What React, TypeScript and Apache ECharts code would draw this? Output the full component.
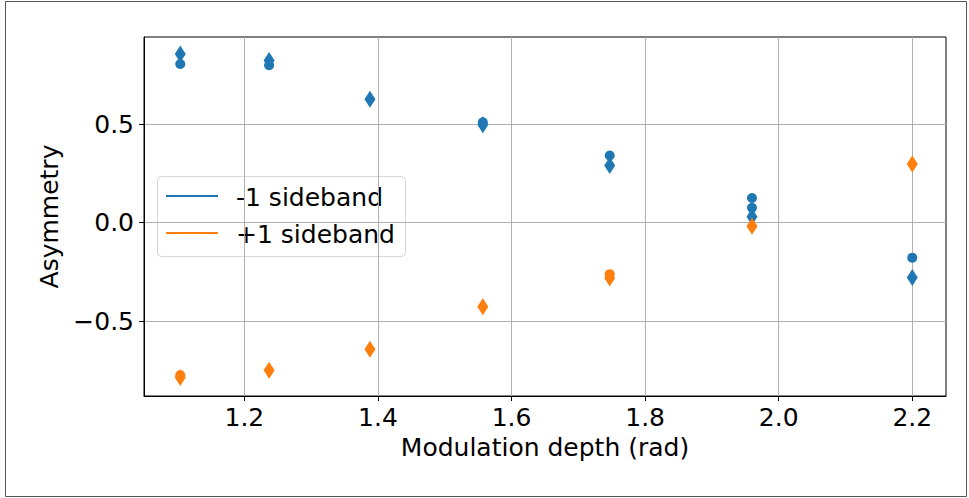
import React, { useEffect, useRef } from "react";
import * as echarts from "echarts";

// -1 sideband (blue)
const minus1DiamondX = [1.104, 1.237, 1.388, 1.557, 1.747, 1.96, 2.2];
const minus1DiamondY = [0.857, 0.823, 0.627, 0.497, 0.29, 0.03, -0.279];
const minus1CircleX = [1.104, 1.237, 1.557, 1.747, 1.96, 1.96, 2.2];
const minus1CircleY = [0.806, 0.8, 0.51, 0.341, 0.125, 0.075, -0.178];

// +1 sideband (orange)
const plus1DiamondX = [1.104, 1.237, 1.388, 1.557, 1.747, 1.96, 2.2];
const plus1DiamondY = [-0.787, -0.75, -0.644, -0.427, -0.282, -0.018, 0.298];
const plus1CircleX = [1.104, 1.747];
const plus1CircleY = [-0.775, -0.262];

const xTickValues = [1.2, 1.4, 1.6, 1.8, 2.0, 2.2];
const xTickLabels = ["1.2", "1.4", "1.6", "1.8", "2.0", "2.2"];
const yTickValues = [-0.5, 0, 0.5];
const yTickLabels = ["\u22120.5", "0.0", "0.5"];

const legendNames = ["-1 sideband", "+1 sideband"];
const BLUE = "#1f77b4";
const ORANGE = "#ff7f0e";
const FONT = "DejaVu Sans";

const zip = (xs: number[], ys: number[]) => xs.map((x, i) => [x, ys[i]]);

export default function App() {
  const ref = useRef<HTMLDivElement>(null);
  useEffect(() => {
    document.body.style.margin = "0";
    if (!ref.current) return;
    const chart = echarts.init(ref.current, undefined, { renderer: "svg" });
    const fmt = (vals: number[], labels: string[]) => (v: number) => {
      const i = vals.findIndex((t) => Math.abs(t - v) < 1e-6);
      return i >= 0 ? labels[i] : "";
    };
    chart.setOption({
      animation: false,
      backgroundColor: "#fff",
      textStyle: { fontFamily: FONT },
      grid: {
        left: 144,
        top: 37,
        width: 802,
        height: 359,
        show: true,
        borderColor: "#000",
        borderWidth: 1,
        backgroundColor: "transparent",
      },
      xAxis: {
        type: "value",
        min: 1.0497,
        max: 2.2505,
        name: "Modulation depth (rad)",
        nameLocation: "middle",
        nameGap: 36,
        nameTextStyle: { fontSize: 25, color: "#000", fontFamily: FONT },
        axisLine: { show: true, onZero: false, lineStyle: { color: "#000", width: 1 } },
        axisTick: {
          show: true,
          length: 5,
          customValues: xTickValues,
          lineStyle: { color: "#000", width: 1 },
        },
        axisLabel: {
          customValues: xTickValues,
          formatter: fmt(xTickValues, xTickLabels),
          fontSize: 25,
          color: "#000",
          margin: 9,
          fontFamily: FONT,
        },
        splitLine: { show: true, lineStyle: { color: "#b0b0b0", width: 1 } },
      },
      yAxis: {
        type: "value",
        min: -0.881,
        max: 0.943,
        name: "Asymmetry",
        nameLocation: "middle",
        nameGap: 80,
        nameRotate: 90,
        nameTextStyle: { fontSize: 25, color: "#000", fontFamily: FONT },
        axisLine: { show: true, onZero: false, lineStyle: { color: "#000", width: 1 } },
        axisTick: {
          show: true,
          length: 5,
          customValues: yTickValues,
          lineStyle: { color: "#000", width: 1 },
        },
        axisLabel: {
          customValues: yTickValues,
          formatter: fmt(yTickValues, yTickLabels),
          fontSize: 25,
          color: "#000",
          margin: 10,
          fontFamily: FONT,
        },
        splitLine: { show: true, lineStyle: { color: "#b0b0b0", width: 1 } },
      },
      series: [
        {
          name: legendNames[0],
          type: "scatter",
          symbol: "diamond",
          symbolSize: [11, 17],
          itemStyle: { color: BLUE, opacity: 1 },
          data: zip(minus1DiamondX, minus1DiamondY),
          z: 2,
        },
        {
          name: legendNames[0],
          type: "scatter",
          symbol: "circle",
          symbolSize: 10,
          itemStyle: { color: BLUE, opacity: 1 },
          data: zip(minus1CircleX, minus1CircleY),
          z: 2,
        },
        {
          name: legendNames[1],
          type: "scatter",
          symbol: "diamond",
          symbolSize: [11, 17],
          itemStyle: { color: ORANGE, opacity: 1 },
          data: zip(plus1DiamondX, plus1DiamondY),
          z: 3,
        },
        {
          name: legendNames[1],
          type: "scatter",
          symbol: "circle",
          symbolSize: 10,
          itemStyle: { color: ORANGE, opacity: 1 },
          data: zip(plus1CircleX, plus1CircleY),
          z: 3,
        },
      ],
      graphic: [
        {
          type: "rect",
          shape: { x: 5.5, y: 1.5, width: 961, height: 495 },
          style: { fill: "none", stroke: "#555", lineWidth: 1 },
          z: 10,
          silent: true,
        },
        {
          type: "group",
          z: 20,
          children: [
            {
              type: "rect",
              shape: { x: 157.5, y: 176.5, width: 248, height: 80, r: 4 },
              style: { fill: "rgba(255,255,255,0.8)", stroke: "#d6d6d6", lineWidth: 1 },
            },
            {
              type: "line",
              shape: { x1: 166, y1: 196, x2: 218, y2: 196 },
              style: { stroke: BLUE, lineWidth: 2 },
            },
            {
              type: "line",
              shape: { x1: 166, y1: 233, x2: 218, y2: 233 },
              style: { stroke: ORANGE, lineWidth: 2 },
            },
            {
              type: "text",
              x: 236,
              y: 197,
              style: {
                text: legendNames[0],
                fontSize: 25,
                fontFamily: FONT,
                fill: "#000",
                verticalAlign: "middle",
                align: "left",
              },
            },
            {
              type: "text",
              x: 236,
              y: 234,
              style: {
                text: legendNames[1],
                fontSize: 25,
                fontFamily: FONT,
                fill: "#000",
                verticalAlign: "middle",
                align: "left",
              },
            },
          ],
        },
      ],
    });
    return () => chart.dispose();
  }, []);
  return (
    <div
      ref={ref}
      style={{ position: "absolute", left: 0, top: 0, width: 969, height: 498 }}
    />
  );
}
